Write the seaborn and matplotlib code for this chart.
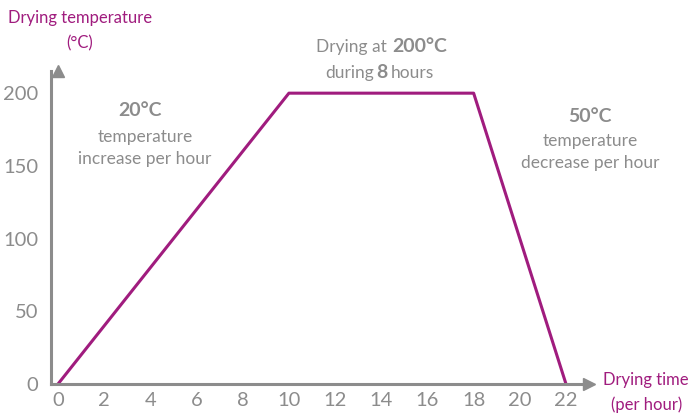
import matplotlib
matplotlib.use("Agg")
import matplotlib.pyplot as plt
from matplotlib.ticker import MultipleLocator
import seaborn as sns

hours = [0, 10, 18, 22]
temps = [0, 200, 200, 0]
x_ticks = list(range(0, 23, 2))
y_ticks = [0, 50, 100, 150, 200]

magenta = "#A01C7E"
gray = "#8c8c8c"

sns.set_theme(style="white")
plt.rcParams['font.family'] = ['Lato', 'DejaVu Sans']

fig = plt.figure(figsize=(6.92, 4.18), dpi=100)
ax = fig.add_axes([0.0738, 0.0813, 0.7775, 0.748])

sns.lineplot(x=hours, y=temps, ax=ax, color=magenta, linewidth=2.2, clip_on=False)

ax.set_xlim(-0.3, 23.0)
ax.set_ylim(0, 215)
ax.set_xticks(x_ticks)
ax.xaxis.set_minor_locator(MultipleLocator(1))
ax.set_yticks(y_ticks)

for side in ['top', 'right']:
    ax.spines[side].set_visible(False)
for side in ['left', 'bottom']:
    ax.spines[side].set_color(gray)
    ax.spines[side].set_linewidth(2.2)

ax.tick_params(axis='x', which='both', direction='in', length=6, width=1.8,
               color=gray, labelcolor=gray, labelsize=14.5, pad=6)
ax.tick_params(axis='y', direction='out', length=5, width=1.8,
               color=gray, labelcolor=gray, labelsize=14.5, pad=4)
ax.tick_params(axis='x', which='minor', labelbottom=False)
ax.set_xlabel('')
ax.set_ylabel('')

# axis arrows
ax.plot(1, 0, '>', color=gray, markersize=9, transform=ax.get_yaxis_transform(), clip_on=False)
ax.plot(0, 1, '^', color=gray, markersize=9, transform=ax.get_xaxis_transform(), clip_on=False)

# axis titles
ax.text(0.95, 252, 'Drying temperature', color=magenta, fontsize=12, ha='center', va='center')
ax.text(0.95, 234, '(°C)', color=magenta, fontsize=12, ha='center', va='center')
ax.text(25.47, 2.7, 'Drying time', color=magenta, fontsize=12, ha='center', va='center')
ax.text(25.47, -14.4, '(per hour)', color=magenta, fontsize=12, ha='center', va='center')

# annotations
ax.text(3.55, 188, '20°C', color=gray, fontsize=14, fontweight='bold', ha='center', va='center')
ax.text(3.77, 170, 'temperature', color=gray, fontsize=12.5, ha='center', va='center')
ax.text(3.77, 155, 'increase per hour', color=gray, fontsize=12.5, ha='center', va='center')

ax.text(14.25, 232, 'Drying at', color=gray, fontsize=12.5, ha='right', va='center')
ax.text(14.46, 232, '200°C', color=gray, fontsize=14, fontweight='bold', ha='left', va='center')
ax.text(13.69, 214, 'during', color=gray, fontsize=12.5, ha='right', va='center')
ax.text(14.03, 214, '8', color=gray, fontsize=14, fontweight='bold', ha='center', va='center')
ax.text(14.42, 214, 'hours', color=gray, fontsize=12.5, ha='left', va='center')

ax.text(23.04, 184, '50°C', color=gray, fontsize=14, fontweight='bold', ha='center', va='center')
ax.text(23.04, 167, 'temperature', color=gray, fontsize=12.5, ha='center', va='center')
ax.text(23.04, 152, 'decrease per hour', color=gray, fontsize=12.5, ha='center', va='center')

plt.savefig('out.png', dpi=100)
plt.close()
